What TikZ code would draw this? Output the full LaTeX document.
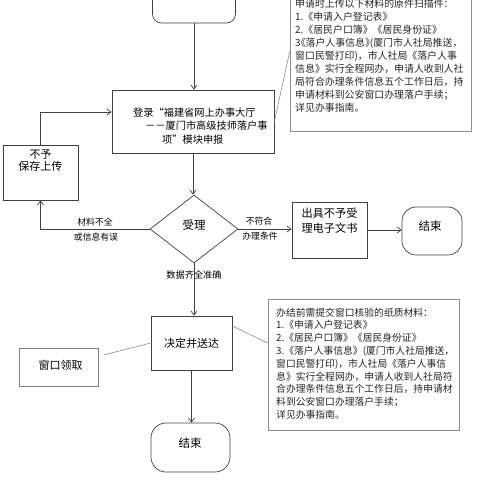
\documentclass[tikz,border=0pt]{standalone}
\usepackage{fontspec}
\setmainfont{Noto Sans CJK SC}
\usetikzlibrary{arrows.meta,shapes.geometric,calc,shadows}
\newcommand{\hp}[1]{{\addfontfeature{RawFeature=+halt}#1}}
\begin{document}
\begin{tikzpicture}[x=1pt,y=-1pt,
  box/.style={draw=black!75, line width=0.7pt, inner sep=0pt, fill=white, font=\fontsize{11}{13}\selectfont},
  note/.style={draw=black!45, line width=0.6pt, inner sep=0pt, fill=white,
    drop shadow={shadow xshift=1.2pt, shadow yshift=-1.2pt, fill=black!35, opacity=0.6}},
  txt/.style={inner sep=0pt, font=\fontsize{11}{12}\selectfont},
  notetxt/.style={inner sep=0pt, align=left, font=\fontsize{9.9}{13}\selectfont, text=black!85},
  lbl/.style={inner sep=0pt, font=\fontsize{8.8}{10}\selectfont},
  conn/.style={draw=black!75, line width=0.7pt, -{Straight Barb[length=4pt,width=6pt]}},
  callout/.style={draw=black!45, line width=0.6pt}]
\useasboundingbox (0,0) rectangle (480,480);
\clip (0,0) rectangle (480,480);

% nodes
\node[box, minimum width=83pt, minimum height=45pt, rounded corners=9pt] (start) at (194,0.5) {};
\node[box, minimum width=162pt, minimum height=63pt] (login) at (193,121.5) {};
\node[txt, anchor=north west, align=left, font=\fontsize{10.2}{13.5}\selectfont] (logintxt) at (133,107.5)
  {登录“福建省网上办事大厅\\\hspace*{12pt}－－厦门市高级技师落户事\\\hspace*{29pt}项”模块申报};

\node[note, minimum width=181pt, minimum height=151pt] (note1) at (380.5,55.5) {};
\node[notetxt, anchor=north west] (note1txt) at (295,-1.5) {申请时上传以下材料的原件扫描件：\\
1.《申请入户登记表》\\
2.《居民户口簿》《居民身份证》\\
3\hp{《}落户人事信息\hp{》}(厦门市人社局推送，\\
窗口民警打印)，市人社局《落户人事\\
信息》实行全程网办，申请人收到人社\\
局符合办理条件信息五个工作日后，持\\
申请材料到公安窗口办理落户手续；\\
详见办事指南。};

\node[box, minimum width=75pt, minimum height=55pt] (nosave) at (40.5,172.5) {};
\node[txt, align=center] (nosavetxt) at (40.5,161) {不予\\保存上传};

\node[box, diamond, minimum width=88pt, minimum height=68pt] (accept) at (194,229) {};
\node[txt, font=\fontsize{11.5}{13}\selectfont] (accepttxt) at (194,225) {受理};

\node[box, minimum width=75pt, minimum height=56pt] (docbox) at (329.5,230) {};
\node[txt, align=center, font=\fontsize{11.2}{15}\selectfont] (doctxt) at (329.5,220.5) {出具不予受\\理电子文书};

\node[box, minimum width=60pt, minimum height=48pt, rounded corners=14pt] (end1) at (432,231) {};
\node[txt, font=\fontsize{11.5}{13}\selectfont] (end1txt) at (430,226) {结束};

\node[box, minimum width=81pt, minimum height=54pt] (decide) at (191.5,343) {决定并送达};
\node[box, draw=black!50, minimum width=79pt, minimum height=38pt] (pickup) at (58.5,367) {};
\node[txt] (pickuptxt) at (60.5,365) {窗口领取};

\node[note, minimum width=191pt, minimum height=131pt] (note2) at (363.5,364.5) {};
\node[notetxt, anchor=north west, font=\fontsize{9.8}{12.8}\selectfont] (note2txt) at (276,307.5) {办结前需提交窗口核验的纸质材料：\\
1.《申请入户登记表》\\
2.《居民户口簿》《居民身份证》\\
3.《落户人事信息》(厦门市人社局推送，\\
窗口民警打印)，市人社局《落户人事信\\
息》实行全程网办，申请人收到人社局符\\
合办理条件信息五个工作日后，持申请材\\
料到公安窗口办理落户手续；\\
详见办事指南。};

\node[box, minimum width=79pt, minimum height=49pt, rounded corners=15pt] (end2) at (190.5,447.5) {};
\node[txt, font=\fontsize{11.5}{13}\selectfont] (end2txt) at (190,443) {结束};

% labels
\node[lbl] (l1) at (259,221) {不符合};
\node[lbl] (l2) at (260,236) {办理条件};
\node[lbl] (l3) at (95,222) {材料不全};
\node[lbl] (l4) at (96,237.5) {或信息有误};
\node[lbl, font=\fontsize{9.2}{10}\selectfont] (l5) at (194,275) {数据齐全准确};

% connectors
\draw[conn] (start.south) -- (start.south |- login.north);
\draw[conn] (login.south) -- (login.south |- accept.north);
\draw[conn] (accept.east) -- (accept.east -| docbox.west);
\draw[conn] (docbox.east) -- (docbox.east -| end1.west);
\draw[conn] (accept.west) -| (nosave.south);
\draw[conn] (nosave.north) |- ($(login.west)+(0,-9.5)$);
\draw[conn] (accept.south) -- (accept.south |- decide.north);
\draw[conn] (decide.south) -- (decide.south |- end2.north);
\draw[callout] (login.east) -- ($(note1.west)+(0,-4)$);
\draw[callout] ($(decide.east)+(0,-17)$) -- ($(note2.west)+(0,-21.5)$);
\draw[callout] ($(pickup.east)+(5,-12)$) -- (decide.west);
\end{tikzpicture}
\end{document}
